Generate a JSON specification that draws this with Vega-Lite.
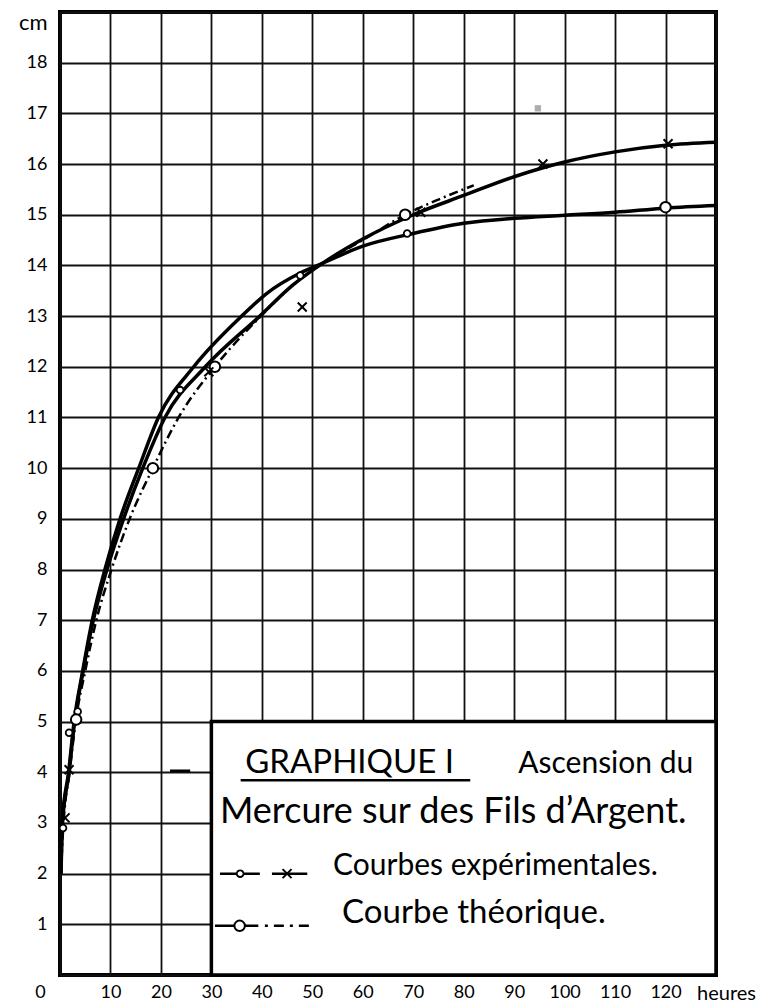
{
  "$schema": "https://vega.github.io/schema/vega-lite/v6.json",
  "width": 656,
  "height": 963,
  "autosize": "none",
  "padding": {"left": 60, "top": 12, "right": 58, "bottom": 28},
  "background": "white",
  "config": {"view": {"stroke": "black", "strokeWidth": 4}, "font": "Lato"},
  "datasets": {
    "curves": [
      {"s": "exp1", "x": 0.2, "y": 2.0}, {"s": "exp1", "x": 0.4, "y": 3}, {"s": "exp1", "x": 1.7, "y": 4}, {"s": "exp1", "x": 2.8, "y": 5}, {"s": "exp1", "x": 4.5, "y": 6}, {"s": "exp1", "x": 6.4, "y": 7}, {"s": "exp1", "x": 8.9, "y": 8}, {"s": "exp1", "x": 11.9, "y": 9}, {"s": "exp1", "x": 15.6, "y": 10}, {"s": "exp1", "x": 19.5, "y": 11}, {"s": "exp1", "x": 26.5, "y": 12}, {"s": "exp1", "x": 36, "y": 13}, {"s": "exp1", "x": 41, "y": 13.45}, {"s": "exp1", "x": 47.6, "y": 13.85}, {"s": "exp1", "x": 52, "y": 14.04}, {"s": "exp1", "x": 60, "y": 14.38}, {"s": "exp1", "x": 70, "y": 14.63}, {"s": "exp1", "x": 80, "y": 14.83}, {"s": "exp1", "x": 90, "y": 14.93}, {"s": "exp1", "x": 100, "y": 14.99}, {"s": "exp1", "x": 110, "y": 15.05}, {"s": "exp1", "x": 120, "y": 15.13}, {"s": "exp1", "x": 130, "y": 15.18},
      {"s": "exp2", "x": 0.2, "y": 2.0}, {"s": "exp2", "x": 0.5, "y": 3}, {"s": "exp2", "x": 1.8, "y": 4}, {"s": "exp2", "x": 2.9, "y": 5}, {"s": "exp2", "x": 4.6, "y": 6}, {"s": "exp2", "x": 6.6, "y": 7}, {"s": "exp2", "x": 9.3, "y": 8}, {"s": "exp2", "x": 12.6, "y": 9}, {"s": "exp2", "x": 16.4, "y": 10}, {"s": "exp2", "x": 20.8, "y": 11}, {"s": "exp2", "x": 28.8, "y": 12}, {"s": "exp2", "x": 39.6, "y": 13}, {"s": "exp2", "x": 46, "y": 13.6}, {"s": "exp2", "x": 52, "y": 14.04}, {"s": "exp2", "x": 60, "y": 14.52}, {"s": "exp2", "x": 70, "y": 15.0}, {"s": "exp2", "x": 80, "y": 15.38}, {"s": "exp2", "x": 90, "y": 15.75}, {"s": "exp2", "x": 100, "y": 16.04}, {"s": "exp2", "x": 110, "y": 16.24}, {"s": "exp2", "x": 120, "y": 16.37}, {"s": "exp2", "x": 130, "y": 16.43},
      {"s": "theo", "x": 0.3, "y": 2.3}, {"s": "theo", "x": 0.7, "y": 3}, {"s": "theo", "x": 1.9, "y": 4}, {"s": "theo", "x": 3.1, "y": 5}, {"s": "theo", "x": 5.0, "y": 6}, {"s": "theo", "x": 7.2, "y": 7}, {"s": "theo", "x": 10.2, "y": 8}, {"s": "theo", "x": 13.8, "y": 9}, {"s": "theo", "x": 18.4, "y": 10}, {"s": "theo", "x": 23.5, "y": 11}, {"s": "theo", "x": 30.7, "y": 12}, {"s": "theo", "x": 39.8, "y": 13}, {"s": "theo", "x": 47, "y": 13.68}, {"s": "theo", "x": 52, "y": 14.04}, {"s": "theo", "x": 60, "y": 14.5}, {"s": "theo", "x": 68.4, "y": 15.0}, {"s": "theo", "x": 75, "y": 15.3}, {"s": "theo", "x": 82, "y": 15.58}
    ],
    "pts": [
      {"kind": "small", "x": 0.6, "y": 2.9}, {"kind": "small", "x": 1.8, "y": 4.78}, {"kind": "small", "x": 3.5, "y": 5.2}, {"kind": "small", "x": 23.8, "y": 11.54}, {"kind": "small", "x": 47.6, "y": 13.8}, {"kind": "small", "x": 68.8, "y": 14.63},
      {"kind": "big", "x": 3.2, "y": 5.04}, {"kind": "big", "x": 18.4, "y": 10.0}, {"kind": "big", "x": 30.7, "y": 12.0}, {"kind": "big", "x": 68.4, "y": 15.0}, {"kind": "big", "x": 120, "y": 15.15},
      {"kind": "cross", "x": 1.0, "y": 3.1}, {"kind": "cross", "x": 1.8, "y": 4.05}, {"kind": "cross", "x": 29.5, "y": 11.9}, {"kind": "cross", "x": 48, "y": 13.18}, {"kind": "cross", "x": 71.5, "y": 15.05}, {"kind": "cross", "x": 95.7, "y": 16.0}, {"kind": "cross", "x": 120.5, "y": 16.4},
      {"kind": "smudge", "x": 94.7, "y": 17.1},
      {"kind": "small", "x": 35.7, "y": 2.0}, {"kind": "cross", "x": 45, "y": 2.0}, {"kind": "big", "x": 35.6, "y": 0.97}
    ],
    "box": [{"x": 30, "x2": 130, "y": 0, "y2": 5}],
    "segs": [
      {"g": "solid", "x": 31.7, "x2": 39.6, "y": 2.0},
      {"g": "solid", "x": 42, "x2": 49, "y": 2.0},
      {"g": "solid", "x": 30.7, "x2": 39.3, "y": 0.97},
      {"g": "dash", "x": 40.6, "x2": 49.9, "y": 0.97},
      {"g": "solid", "x": 21.8, "x2": 25.8, "y": 4.03},
      {"g": "under", "x": 35.8, "x2": 81.3, "y": 3.84}
    ],
    "txt": [
      {"r": "title", "label": "GRAPHIQUE I", "x": 36.7, "y": 3.99},
      {"r": "sub", "label": "Ascension du", "x": 90.8, "y": 3.99},
      {"r": "body", "label": "Mercure sur des Fils d’Argent.", "x": 31.7, "y": 3.0},
      {"r": "leg", "label": "Courbes expérimentales.", "x": 54.1, "y": 1.98},
      {"r": "leg2", "label": "Courbe théorique.", "x": 55.9, "y": 1.03}
    ]
  },
  "encoding": {
    "x": {
      "field": "x", "type": "quantitative",
      "scale": {"domain": [0, 130], "nice": false, "zero": false},
      "axis": {
        "values": [0, 10, 20, 30, 40, 50, 60, 70, 80, 90, 100, 110, 120, 130],
        "title": null, "grid": true, "gridColor": "#111", "gridWidth": 1.8,
        "domain": false, "ticks": false, "labelOverlap": false, "labelBound": false, "labelFlush": false,
        "labelFont": "Lato", "labelColor": "#000", "labelPadding": 8,
        "labelFontSize": {"condition": {"test": "datum.value == 130", "value": 20}, "value": 18},
        "labelOffset": {"condition": [{"test": "datum.value == 0", "value": -20}, {"test": "datum.value == 130", "value": 10}], "value": 0},
        "labelExpr": "datum.value == 130 ? 'heures' : datum.label"
      }
    },
    "y": {
      "field": "y", "type": "quantitative",
      "scale": {"domain": [0, 19], "nice": false, "zero": false},
      "axis": {
        "values": [0, 1, 2, 3, 4, 5, 6, 7, 8, 9, 10, 11, 12, 13, 14, 15, 16, 17, 18, 19],
        "title": null, "grid": true, "gridColor": "#111", "gridWidth": 1.8,
        "domain": false, "ticks": false, "labelOverlap": false, "labelBound": false, "labelFlush": false,
        "labelFont": "Lato", "labelColor": "#000", "labelPadding": 13,
        "labelFontSize": {"condition": {"test": "datum.value == 19", "value": 22}, "value": 18},
        "labelBaseline": {"condition": {"test": "datum.value == 19", "value": "top"}, "value": "middle"},
        "labelExpr": "datum.value == 0 ? '' : datum.value == 19 ? 'cm' : datum.label"
      }
    }
  },
  "layer": [
    {
      "data": {"name": "box"},
      "mark": {"type": "rect", "fill": "white", "stroke": "black", "strokeWidth": 3.5},
      "encoding": {"x2": {"field": "x2"}, "y2": {"field": "y2"}}
    },
    {
      "data": {"name": "curves"},
      "transform": [{"filter": "datum.s != 'theo'"}],
      "mark": {"type": "line", "interpolate": "monotone", "stroke": "black", "strokeWidth": 3.5},
      "encoding": {"detail": {"field": "s"}}
    },
    {
      "data": {"name": "curves"},
      "transform": [{"filter": "datum.s == 'theo'"}],
      "mark": {"type": "line", "interpolate": "monotone", "stroke": "black", "strokeWidth": 2.5, "strokeDash": [9, 4, 2, 4]},
      "encoding": {"detail": {"field": "s"}}
    },
    {
      "data": {"name": "segs"},
      "transform": [{"filter": "datum.g != 'dash'"}],
      "mark": {"type": "rule", "stroke": "black", "strokeWidth": 2.5},
      "encoding": {"x2": {"field": "x2"}}
    },
    {
      "data": {"name": "segs"},
      "transform": [{"filter": "datum.g == 'dash'"}],
      "mark": {"type": "rule", "stroke": "black", "strokeWidth": 2.5, "strokeDash": [3, 6, 10, 6]},
      "encoding": {"x2": {"field": "x2"}}
    },
    {
      "data": {"name": "pts"},
      "transform": [{"filter": "datum.kind == 'small'"}],
      "mark": {"type": "point", "shape": "circle", "filled": true, "fill": "white", "stroke": "black", "strokeWidth": 1.8, "size": 45, "opacity": 1}
    },
    {
      "data": {"name": "pts"},
      "transform": [{"filter": "datum.kind == 'big'"}],
      "mark": {"type": "point", "shape": "circle", "filled": true, "fill": "white", "stroke": "black", "strokeWidth": 2, "size": 110, "opacity": 1}
    },
    {
      "data": {"name": "pts"},
      "transform": [{"filter": "datum.kind == 'cross'"}],
      "mark": {"type": "point", "shape": "M-1,-1L1,1M-1,1L1,-1", "filled": false, "stroke": "black", "strokeWidth": 2, "size": 80, "opacity": 1}
    },
    {
      "data": {"name": "pts"},
      "transform": [{"filter": "datum.kind == 'smudge'"}],
      "mark": {"type": "point", "shape": "square", "filled": true, "fill": "#999", "stroke": null, "size": 40, "opacity": 0.8}
    },
    {
      "data": {"name": "txt"},
      "transform": [{"filter": "datum.r == 'title'"}],
      "mark": {"type": "text", "align": "left", "baseline": "alphabetic", "fontSize": 33, "font": "Lato", "color": "black"},
      "encoding": {"text": {"field": "label"}}
    },
    {
      "data": {"name": "txt"},
      "transform": [{"filter": "datum.r == 'sub'"}],
      "mark": {"type": "text", "align": "left", "baseline": "alphabetic", "fontSize": 30, "font": "Lato", "color": "black"},
      "encoding": {"text": {"field": "label"}}
    },
    {
      "data": {"name": "txt"},
      "transform": [{"filter": "datum.r == 'body'"}],
      "mark": {"type": "text", "align": "left", "baseline": "alphabetic", "fontSize": 36, "font": "Lato", "color": "black"},
      "encoding": {"text": {"field": "label"}}
    },
    {
      "data": {"name": "txt"},
      "transform": [{"filter": "datum.r == 'leg'"}],
      "mark": {"type": "text", "align": "left", "baseline": "alphabetic", "fontSize": 30, "font": "Lato", "color": "black"},
      "encoding": {"text": {"field": "label"}}
    },
    {
      "data": {"name": "txt"},
      "transform": [{"filter": "datum.r == 'leg2'"}],
      "mark": {"type": "text", "align": "left", "baseline": "alphabetic", "fontSize": 33, "font": "Lato", "color": "black"},
      "encoding": {"text": {"field": "label"}}
    }
  ]
}
